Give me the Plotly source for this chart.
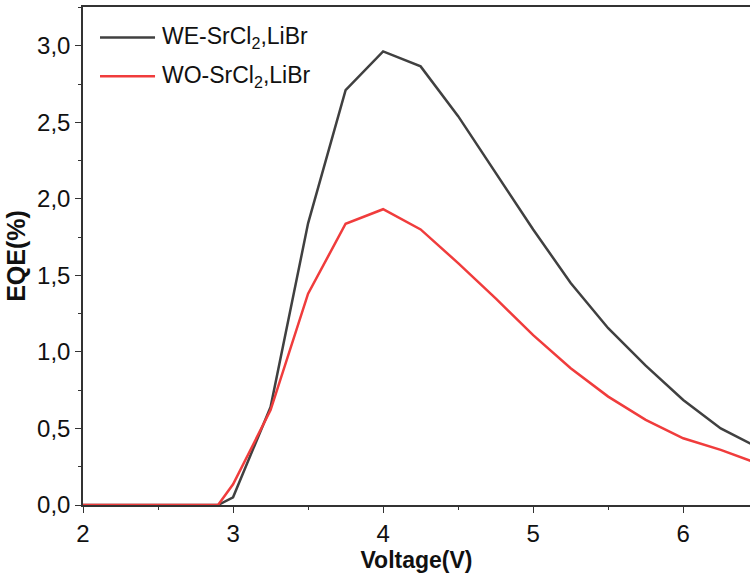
import plotly.graph_objects as go

voltage = [2.0, 2.25, 2.5, 2.75, 2.9, 3.0, 3.25, 3.5, 3.75, 4.0, 4.25, 4.5, 4.75, 5.0, 5.25, 5.5, 5.75, 6.0, 6.25, 6.5]
eqe_we = [0, 0, 0, 0, 0, 0.05, 0.64, 1.84, 2.71, 2.963, 2.865, 2.54, 2.17, 1.80, 1.45, 1.155, 0.91, 0.686, 0.50, 0.375]
eqe_wo = [0, 0, 0, 0, 0, 0.135, 0.62, 1.38, 1.837, 1.932, 1.80, 1.58, 1.35, 1.11, 0.893, 0.708, 0.556, 0.436, 0.36, 0.27]

names = ["WE-SrCl<sub>2</sub>,LiBr", "WO-SrCl<sub>2</sub>,LiBr"]
colors = ["#404040", "#f03c3c"]

fig = go.Figure()
for ys, nm, c in zip([eqe_we, eqe_wo], names, colors):
    fig.add_trace(go.Scatter(x=voltage, y=ys, mode="lines", name=nm,
                             line=dict(color=c, width=2.5), showlegend=False))

# manual legend
leg_y = [0.939, 0.861]
for yy, nm, c in zip(leg_y, names, colors):
    fig.add_shape(type="line", xref="paper", yref="paper", x0=0.0255, x1=0.108,
                  y0=yy, y1=yy, line=dict(color=c, width=2.5))
    fig.add_annotation(xref="paper", yref="paper", x=0.1154, y=yy, text=nm,
                       showarrow=False, xanchor="left", yanchor="middle",
                       font=dict(size=23, color="#111"))

fig.update_layout(
    width=750, height=583,
    margin=dict(l=83, r=0, t=7, b=78),
    paper_bgcolor="white", plot_bgcolor="white",
    separators=",.",
    font=dict(family="Liberation Sans, Arial", color="#111"),
)
fig.update_xaxes(range=[2, 6.445], dtick=1, tick0=2, showgrid=False, zeroline=False,
                 showline=True, linecolor="#333", linewidth=1.5, mirror=True,
                 ticks="outside", ticklen=6, tickwidth=1.2, tickcolor="#333",
                 minor=dict(dtick=0.5, ticks="outside", ticklen=3, tickcolor="#333"),
                 tickfont=dict(size=24),
                 title=dict(text="<b>Voltage(V)</b>", font=dict(size=23), standoff=6))
fig.update_yaxes(range=[0, 3.253], dtick=0.5, tick0=0, tickformat=".1f",
                 showgrid=False, zeroline=False,
                 showline=True, linecolor="#333", linewidth=1.5,
                 ticks="outside", ticklen=6, tickwidth=1.2, tickcolor="#333",
                 minor=dict(dtick=0.25, ticks="outside", ticklen=3, tickcolor="#333"),
                 tickfont=dict(size=24),
                 title=dict(text="<b>EQE(%)</b>", font=dict(size=25), standoff=4))

fig.write_html("out.html")
